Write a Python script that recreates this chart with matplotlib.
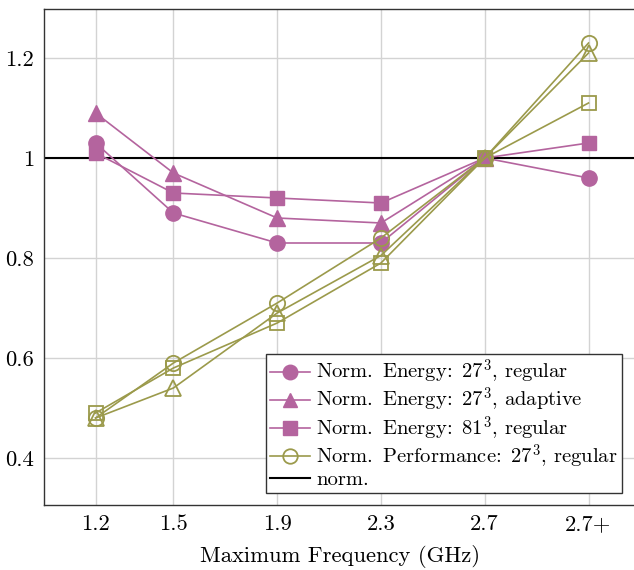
import matplotlib
matplotlib.use("Agg")
import matplotlib.pyplot as plt

# ---- data ----
freq_x = [1.2, 1.5, 1.9, 2.3, 2.7, 3.1]
tick_labels = ["1.2", "1.5", "1.9", "2.3", "2.7", "2.7+"]

energy_27_regular = [1.03, 0.89, 0.83, 0.83, 1.00, 0.96]
energy_27_adaptive = [1.09, 0.97, 0.88, 0.87, 1.00]
energy_81_regular = [1.01, 0.93, 0.92, 0.91, 1.00, 1.03]
perf_27_regular = [0.48, 0.59, 0.71, 0.84, 1.00, 1.23]
perf_27_adaptive = [0.48, 0.54, 0.69, 0.805, 1.00, 1.21]
perf_81_regular = [0.49, 0.58, 0.67, 0.79, 1.00, 1.11]
norm_value = 1.0

MAG = "#B4649E"
OLV = "#9B9A4B"

plt.rcParams["font.family"] = "serif"
plt.rcParams["font.serif"] = ["cmr10"]
plt.rcParams["mathtext.fontset"] = "cm"
plt.rcParams["axes.unicode_minus"] = False
plt.rcParams["axes.formatter.use_mathtext"] = True
FS = 16.3
LFS = 14.8

fig = plt.figure(figsize=(6.34, 5.70), dpi=100)
ax = fig.add_axes([43.7 / 634, 65 / 570, (636 - 43.7) / 634, (505 - 9) / 570])

lw = 1.2
ms = 11
ax.plot(freq_x, energy_27_regular, color=MAG, lw=lw, marker="o", ms=ms,
        mfc=MAG, mec=MAG, label=r"Norm.$\,$ Energy:$\,$ $27^3$, regular", zorder=3)
ax.plot(freq_x[:len(energy_27_adaptive)], energy_27_adaptive, color=MAG, lw=lw,
        marker="^", ms=ms, mfc=MAG, mec=MAG,
        label=r"Norm.$\,$ Energy:$\,$ $27^3$, adaptive", zorder=3)
ax.plot(freq_x, energy_81_regular, color=MAG, lw=lw, marker="s", ms=ms - 0.5,
        mfc=MAG, mec=MAG, label=r"Norm.$\,$ Energy:$\,$ $81^3$, regular", zorder=3)
ax.plot(freq_x, perf_27_regular, color=OLV, lw=lw, marker="o", ms=ms,
        mfc="none", mec=OLV, mew=1.3,
        label=r"Norm.$\,$ Performance:$\,$ $27^3$, regular", zorder=4)
ax.plot(freq_x, perf_27_adaptive, color=OLV, lw=lw, marker="^", ms=ms,
        mfc="none", mec=OLV, mew=1.3,
        label="_Norm. Performance: 27^3, adaptive", zorder=4)
ax.plot(freq_x, perf_81_regular, color=OLV, lw=lw, marker="s", ms=ms - 0.5,
        mfc="none", mec=OLV, mew=1.3,
        label="_Norm. Performance: 81^3, regular", zorder=4)
ax.axhline(norm_value, color="black", lw=1.5, label="norm.", zorder=2)

ax.set_xlim(1.0, 3.283)
ax.set_ylim(0.306, 1.298)
ax.set_xticks(freq_x)
ax.set_xticklabels(tick_labels)
ax.set_yticks([0.4, 0.6, 0.8, 1.0, 1.2])
ax.set_yticklabels(["0.4", "0.6", "0.8", "1", "1.2"])
ax.tick_params(length=0, labelsize=FS)
ax.tick_params(axis="x", pad=7)
ax.tick_params(axis="y", pad=7)
ax.grid(True, color="#D3D3D3", lw=1.0, zorder=0)
ax.set_axisbelow(True)
for s in ax.spines.values():
    s.set_color("#333333")
    s.set_linewidth(1.0)

ax.set_xlabel("Maximum Frequency (GHz)", fontsize=FS, labelpad=8)

leg = ax.legend(loc="lower right", bbox_to_anchor=(0.976, 0.024), borderaxespad=0,
                fontsize=LFS, frameon=True, fancybox=False, edgecolor="#333333",
                framealpha=1, handlelength=1.95, handletextpad=0.3,
                labelspacing=0.0, borderpad=0.2, markerscale=0.95)
leg.get_frame().set_linewidth(1.0)

fig.savefig("out.png", dpi=100)
